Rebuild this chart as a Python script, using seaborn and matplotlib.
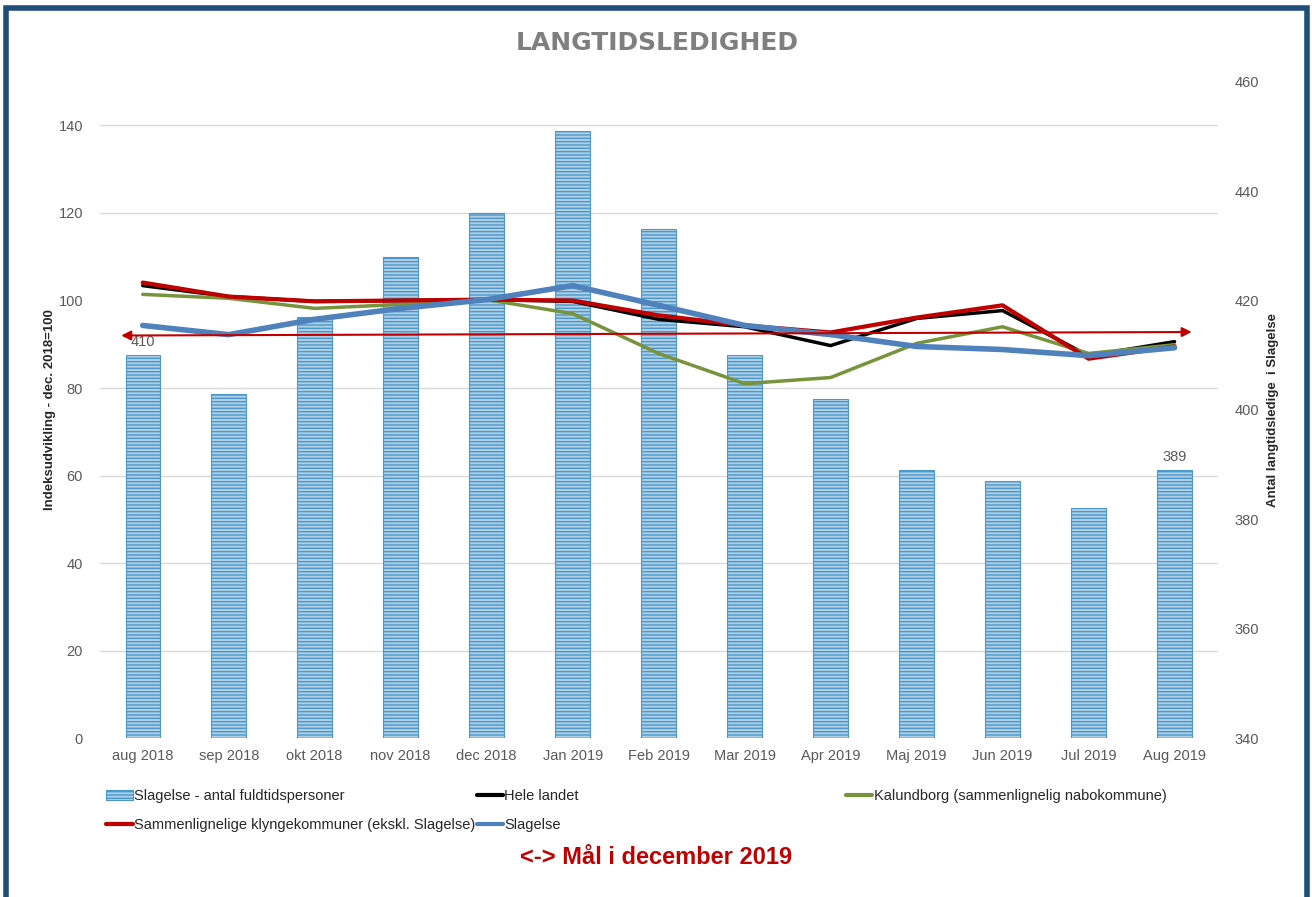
"""
Langtidsledighed - Slagelse compared with neighbours and the whole country
"""

import matplotlib
matplotlib.use("Agg")
import matplotlib.pyplot as plt
from matplotlib.patches import Patch, Rectangle
from matplotlib.lines import Line2D
import seaborn as sns
import pandas as pd
import numpy as np

# data
months = ["aug 2018", "sep 2018", "okt 2018", "nov 2018", "dec 2018", "Jan 2019",
          "Feb 2019", "Mar 2019", "Apr 2019", "Maj 2019", "Jun 2019", "Jul 2019", "Aug 2019"]
slagelse_persons = [410, 403, 417, 428, 436, 451, 433, 410, 402, 389, 387, 382, 389]
hele_landet = [103.4, 100.9, 99.8, 100.0, 100.2, 99.8, 95.7, 94.0, 89.7, 95.9, 97.7, 87.4, 90.6]
kalundborg = [101.4, 100.5, 98.2, 99.1, 100.2, 97.0, 87.9, 81.0, 82.4, 90.2, 94.0, 87.9, 89.9]
klyngekommuner = [104.1, 100.9, 99.8, 100.0, 100.2, 100.0, 96.6, 94.3, 92.7, 96.1, 98.9, 86.7, 89.5]
slagelse_index = [94.3, 92.2, 95.7, 98.2, 100.2, 103.4, 98.9, 94.3, 92.2, 89.5, 88.8, 87.4, 89.2]
target_level = [92.0, 92.8]          # goal arrow, start and end (index)
labelled_bars = [0, 12]              # bars that carry a value label

left_ticks = [0, 20, 40, 60, 80, 100, 120, 140]
right_ticks = [340, 360, 380, 400, 420, 440, 460]

sns.set_style("white")
plt.rcParams["font.family"] = ["Liberation Sans", "DejaVu Sans"]
plt.rcParams["hatch.linewidth"] = 1.0

GRAY = "#595959"
DARKRED = "#C00000"
BAR_FACE = "#A9D1EC"
BAR_EDGE = "#4A98CC"

fig = plt.figure(figsize=(13.12, 8.97), dpi=100)
ax_bar = fig.add_axes([0.076, 0.177, 0.852, 0.732])
ax_line = ax_bar.twinx()

# bars on the right axis, drawn underneath the lines
bar_df = pd.DataFrame({"month": months, "persons": slagelse_persons})
sns.barplot(data=bar_df, x="month", y="persons", ax=ax_bar, color=BAR_FACE,
            width=0.4, edgecolor=BAR_EDGE, linewidth=0.8, hatch="-----", zorder=2)
ax_bar.set_ylim(340, 460)
ax_bar.set_yticks(right_ticks)
ax_bar.yaxis.tick_right()
ax_bar.yaxis.set_label_position("right")
# grid lines follow the left (index) axis
ax_bar.set_yticks([340 + v * 120 / 150 for v in left_ticks], minor=True)
ax_bar.grid(False)
ax_bar.grid(True, which="minor", axis="y", color="#D9D9D9", linewidth=1.0, zorder=0)
ax_bar.set_axisbelow(True)
ax_bar.tick_params(axis="y", which="both", length=0, labelsize=10.5, labelcolor=GRAY, pad=12)
ax_bar.tick_params(axis="x", length=0, labelsize=10.5, labelcolor=GRAY, pad=8)
ax_bar.set_xlabel("")
ax_bar.set_ylabel("Antal langtidsledige  i Slagelse", fontsize=9.5, fontweight="bold",
                  color="#262626", labelpad=6)

for i in labelled_bars:
    ax_bar.text(i, slagelse_persons[i] + 1.2, str(slagelse_persons[i]), ha="center",
                va="bottom", fontsize=10.5, color=GRAY, zorder=3)

# index lines on the left axis
x = np.arange(len(months))
series = [
    (hele_landet, "#000000", 2.5, "Hele landet"),
    (kalundborg, "#77933C", 2.5, "Kalundborg (sammenlignelig nabokommune)"),
    (klyngekommuner, DARKRED, 3.0, "Sammenlignelige klyngekommuner (ekskl. Slagelse)"),
    (slagelse_index, "#4F81BD", 4.0, "Slagelse"),
]
for values, color, lw, name in series:
    sns.lineplot(x=x, y=values, ax=ax_line, color=color, linewidth=lw, legend=False)

ax_line.annotate("", xy=(len(months) - 0.8, target_level[1]), xytext=(-0.25, target_level[0]),
                 arrowprops=dict(arrowstyle="<|-|>", color=DARKRED, lw=1.5,
                                 mutation_scale=14, shrinkA=0, shrinkB=0))

ax_line.set_ylim(0, 150)
ax_line.set_yticks(left_ticks)
ax_line.yaxis.tick_left()
ax_line.yaxis.set_label_position("left")
ax_line.tick_params(axis="y", length=0, labelsize=10.5, labelcolor=GRAY, pad=12)
ax_line.set_ylabel("Indeksudvikling - dec. 2018=100", fontsize=9.5, fontweight="bold",
                   color="#262626", labelpad=2)
ax_bar.set_xlim(-0.5, len(months) - 0.5)

for a in (ax_bar, ax_line):
    for s in a.spines.values():
        s.set_visible(False)

# title and footer
fig.text(0.501, 0.952, "LANGTIDSLEDIGHED", ha="center", va="center", fontsize=18,
         fontweight="bold", color="#7F7F7F", family=["DejaVu Sans"])
fig.text(0.5, 0.0435, "<-> Mål i december 2019", ha="center", va="center", fontsize=17,
         fontweight="bold", color=DARKRED)

# legend: two columns on the left, Kalundborg on its own further right
h_bar = Patch(facecolor=BAR_FACE, edgecolor=BAR_EDGE, hatch="-----", linewidth=0.8,
              label="Slagelse - antal fuldtidspersoner")
h_lines = [Line2D([], [], color=c, linewidth=3, label=n) for _, c, _, n in series]
leg_opts = dict(frameon=False, fontsize=10.5, handlelength=1.8, handletextpad=0.1,
                labelspacing=1.0, borderaxespad=0, borderpad=0)
fig.legend(handles=[h_bar, h_lines[2], h_lines[0], h_lines[3]], ncol=2,
           loc="upper left", bbox_to_anchor=(0.081, 0.120), columnspacing=0.1, **leg_opts)
fig.legend(handles=[h_lines[1]], loc="upper left", bbox_to_anchor=(0.645, 0.120), **leg_opts)

# dark blue frame round the chart
fig.patches.append(Rectangle((0.0045, -0.02), 0.9915, 1.011, transform=fig.transFigure,
                             fill=False, edgecolor="#1F4E79", linewidth=4, zorder=10))

fig.savefig("out.png", dpi=100)
